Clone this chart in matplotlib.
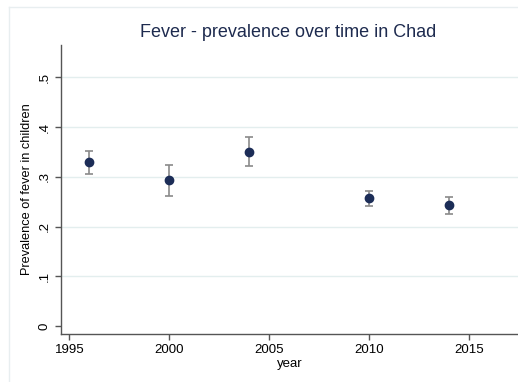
import matplotlib.pyplot as plt
import numpy as np

years = [1996, 2000, 2004, 2010, 2014]
prevalence = [0.330, 0.293, 0.351, 0.257, 0.243]
ci_low = [0.306, 0.262, 0.322, 0.241, 0.225]
ci_high = [0.353, 0.324, 0.380, 0.272, 0.260]

x_ticks = [1995, 2000, 2005, 2010, 2015]
y_ticks = [0, 0.1, 0.2, 0.3, 0.4, 0.5]
y_tick_labels = ['0', '.1', '.2', '.3', '.4', '.5']

plt.rcParams['font.family'] = ['Liberation Sans', 'DejaVu Sans']

fig = plt.figure(figsize=(5.18, 3.82), dpi=100)
ax = fig.add_axes([61 / 518, 1 - 334 / 382, 1 - 61 / 518, (334 - 45) / 382])

# faint window frame around the screenshot
fig.add_artist(plt.Line2D([9 / 518, 9 / 518], [0, 1 - 7 / 382], color='#e8eef0', lw=1))
fig.add_artist(plt.Line2D([9 / 518, 1], [1 - 7 / 382, 1 - 7 / 382], color='#e8eef0', lw=1))

prev = np.array(prevalence)
yerr = [prev - np.array(ci_low), np.array(ci_high) - prev]
ax.errorbar(years, prevalence, yerr=yerr, fmt='none', ecolor='#8a8a8a',
            elinewidth=1.2, capsize=3, capthick=1.2, zorder=2)
ax.plot(years, prevalence, 'o', color='#1c2d57', markersize=6, zorder=3)

ax.set_xlim(1994.58, 2017.45)
ax.set_ylim(-0.0155, 0.565)
ax.set_xticks(x_ticks)
ax.set_yticks(y_ticks)
ax.set_yticklabels(y_tick_labels, rotation=90, va='center')

for v in y_ticks[1:]:
    ax.axhline(v, color='#e3eeee', lw=1, zorder=0)

for s in ['top', 'right']:
    ax.spines[s].set_visible(False)
for s in ['left', 'bottom']:
    ax.spines[s].set_color('#555555')
    ax.spines[s].set_linewidth(1)
ax.tick_params(colors='#555555', length=4, width=1, labelsize=9.5, labelcolor='black')

ax.set_xlabel('year', fontsize=9.5, labelpad=1)
ax.set_ylabel('Prevalence of fever in children', fontsize=9.2, labelpad=4)
ax.set_title('Fever - prevalence over time in Chad', fontsize=13,
             color='#1e2b4f', pad=6, x=(288 - 61) / (518 - 61))

fig.savefig('out.png', dpi=100)
